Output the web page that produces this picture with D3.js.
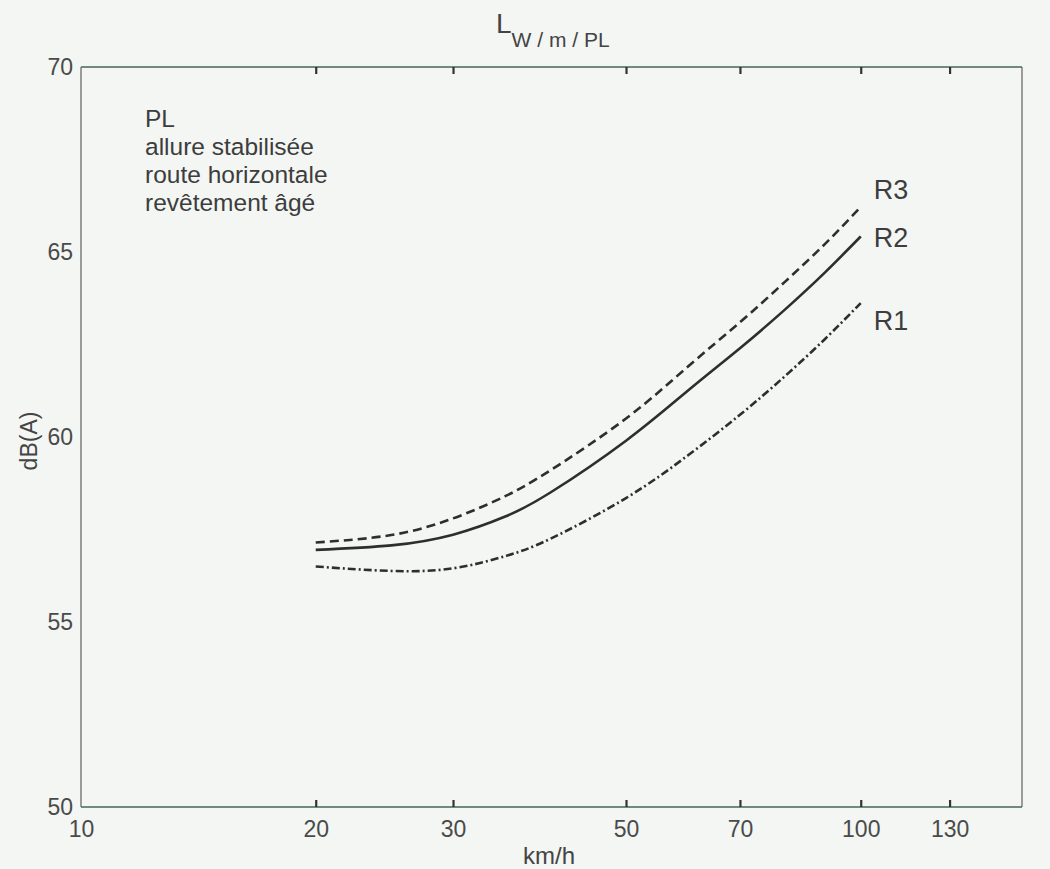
<!DOCTYPE html>
<html>
<head>
<meta charset="utf-8">
<script src="https://cdn.jsdelivr.net/npm/d3@7"></script>
<style>
  html, body { margin: 0; padding: 0; background: #f3f6f3; }
  svg { display: block; }
  text { font-family: "Liberation Sans", Arial, Helvetica, sans-serif; fill: #3d3d3d; }
</style>
</head>
<body>
<svg id="chart" width="1050" height="869"></svg>
<script>
// Vitesse (km/h) et niveaux de puissance acoustique par mètre, PL
const speeds = [20, 25, 30, 35, 40, 50, 60, 70, 80, 90, 100];
const levelsR1 = [56.5, 56.38, 56.45, 56.78, 57.25, 58.35, 59.5, 60.6, 61.65, 62.65, 63.62];
const levelsR2 = [56.95, 57.07, 57.36, 57.85, 58.5, 59.9, 61.25, 62.4, 63.45, 64.45, 65.42];
const levelsR3 = [57.15, 57.35, 57.8, 58.4, 59.1, 60.5, 61.9, 63.1, 64.2, 65.22, 66.22];
const seriesNames = ["R1", "R2", "R3"];
const xTicks = [10, 20, 30, 50, 70, 100, 130];
const yTicks = [50, 55, 60, 65, 70];
const noteLines = ["PL", "allure stabilisée", "route horizontale", "revêtement âgé"];

const svg = d3.select("#chart");
const mLeft = 81, mRight = 1022, mTop = 67, mBottom = 807;

const x = d3.scaleLog().domain([10, 161]).range([mLeft, mRight]);
const y = d3.scaleLinear().domain([50, 70]).range([mBottom, mTop]);

// Cadre
const frame = svg.append("g");
frame.append("line").attr("x1", mLeft).attr("x2", mRight).attr("y1", mTop).attr("y2", mTop)
  .attr("stroke", "#6f8a82").attr("stroke-width", 2);
frame.append("line").attr("x1", mLeft).attr("x2", mRight).attr("y1", mBottom).attr("y2", mBottom)
  .attr("stroke", "#6f8a82").attr("stroke-width", 2);
frame.append("line").attr("x1", mLeft).attr("x2", mLeft).attr("y1", mTop).attr("y2", mBottom)
  .attr("stroke", "#6a6a6a").attr("stroke-width", 1.3);
frame.append("line").attr("x1", mRight).attr("x2", mRight).attr("y1", mTop).attr("y2", mBottom)
  .attr("stroke", "#6a6a6a").attr("stroke-width", 1.3);

// Axe des vitesses (bas) : graduations vers l'intérieur
const xAxis = svg.append("g")
  .attr("transform", `translate(0,${mBottom})`)
  .call(d3.axisBottom(x).tickValues(xTicks).tickFormat(d3.format("d"))
    .tickSize(-7).tickPadding(14));
xAxis.select(".domain").remove();
xAxis.selectAll(".tick line").attr("stroke", "#333").attr("stroke-width", 2.2)
  .filter(d => d === 10).remove();
xAxis.selectAll(".tick text").attr("font-size", 23).style("fill", "#4a4a4a");

// Axe du haut : graduations seules
const xTop = svg.append("g")
  .attr("transform", `translate(0,${mTop})`)
  .call(d3.axisTop(x).tickValues(xTicks.filter(d => d !== 10)).tickFormat("").tickSize(-7));
xTop.select(".domain").remove();
xTop.selectAll(".tick line").attr("stroke", "#333").attr("stroke-width", 2.2);

// Axe des niveaux
const yAxis = svg.append("g")
  .attr("transform", `translate(${mLeft},0)`)
  .call(d3.axisLeft(y).tickValues(yTicks).tickSize(0).tickPadding(8));
yAxis.select(".domain").remove();
yAxis.selectAll(".tick text").attr("font-size", 23).style("fill", "#4a4a4a");

// Titres des axes
svg.append("text").attr("x", 549).attr("y", 864).attr("text-anchor", "middle")
  .attr("font-size", 24).style("fill", "#444").text("km/h");
svg.append("text").attr("transform", "translate(37,441) rotate(-90)")
  .attr("text-anchor", "middle").attr("font-size", 23).style("fill", "#444").text("dB(A)");

const title = svg.append("text").attr("x", 496).attr("y", 33).style("fill", "#444");
title.append("tspan").attr("font-size", 28).text("L");
title.append("tspan").attr("font-size", 21).attr("dy", 14).text("W / m / PL");

// Texte descriptif
const note = svg.append("text").attr("x", 145).attr("y", 127).attr("font-size", 24.5);
note.selectAll("tspan").data(noteLines).join("tspan")
  .attr("x", 145).attr("dy", (d, i) => i === 0 ? 0 : 28).text(d => d);

// Courbes
const line = d3.line()
  .x(d => x(d[0]))
  .y(d => y(d[1]))
  .curve(d3.curveNatural);

const series = [
  { name: seriesNames[0], values: levelsR1, dash: "8,3,2,3", labelDy: 17 },
  { name: seriesNames[1], values: levelsR2, dash: null, labelDy: 1 },
  { name: seriesNames[2], values: levelsR3, dash: "9,5", labelDy: -18 }
];

series.forEach(s => {
  const pts = speeds.map((v, i) => [v, s.values[i]]);
  svg.append("path")
    .datum(pts)
    .attr("d", line)
    .attr("fill", "none")
    .attr("stroke", "#2e2e2e")
    .attr("stroke-width", 2.6)
    .attr("stroke-dasharray", s.dash);
  const last = pts[pts.length - 1];
  svg.append("text")
    .attr("x", x(last[0]) + 13)
    .attr("y", y(last[1]) + s.labelDy)
    .attr("dy", "0.36em")
    .attr("font-size", 27)
    .text(s.name);
});
</script>
</body>
</html>
